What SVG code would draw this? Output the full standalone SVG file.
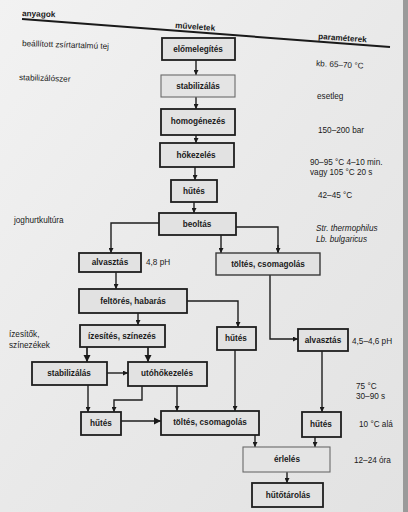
<svg xmlns="http://www.w3.org/2000/svg" width="408" height="512" viewBox="0 0 408 512">
<defs>
<linearGradient id="bg" x1="0" y1="0" x2="1" y2="1">
<stop offset="0" stop-color="#f2f2f2"/>
<stop offset="0.5" stop-color="#e9e9e9"/>
<stop offset="1" stop-color="#e2e2e2"/>
</linearGradient>
<marker id="ah" viewBox="0 0 10 10" refX="10" refY="5" markerWidth="5" markerHeight="5" orient="auto" markerUnits="userSpaceOnUse">
<path d="M0,0 L10,5 L0,10 Z" fill="#1a1a1a"/>
</marker>
<marker id="ahb" viewBox="0 0 10 10" refX="10" refY="5" markerWidth="7" markerHeight="8" orient="auto" markerUnits="userSpaceOnUse">
<path d="M0,0 L10,5 L0,10 Z" fill="#1a1a1a"/>
</marker>
</defs>
<style>
.box{fill:#e2e2e2;stroke:#1e1e1e;stroke-width:1.8}
.mid{fill:#e2e2e2;stroke:#3a3a3a;stroke-width:1.4}
.lite{fill:#e4e4e4;stroke:#6a6a6a;stroke-width:1.1}
.bl{font-family:"Liberation Sans",Arial,sans-serif;font-weight:bold;font-size:8.2px;fill:#1a1a1a;text-anchor:middle}
.t{font-family:"Liberation Sans",Arial,sans-serif;font-size:8.2px;fill:#1a1a1a}
.h{font-family:"Liberation Sans",Arial,sans-serif;font-weight:bold;font-size:8.2px;fill:#1a1a1a}
.c{fill:none;stroke:#1e1e1e;stroke-width:1.4}
.ca{fill:none;stroke:#1e1e1e;stroke-width:1.4;marker-end:url(#ah)}
.cb{fill:none;stroke:#1e1e1e;stroke-width:1.7;marker-end:url(#ahb)}
</style>
<rect x="0" y="0" width="408" height="512" fill="url(#bg)"/>
<rect x="403" y="0" width="5" height="512" fill="#9a9a9a"/>

<g id="header">
<line x1="22" y1="19" x2="390" y2="47" stroke="#1a1a1a" stroke-width="2"/>
<text class="h" x="22" y="16" transform="rotate(2 22 16)">anyagok</text>
<text class="h" x="175" y="28" transform="rotate(4 175 28)">műveletek</text>
<text class="h" x="318" y="39" transform="rotate(4 318 39)">paraméterek</text>
</g>

<g id="inputs">
<text class="t" x="22" y="46" transform="rotate(2 22 46)">beállított zsírtartalmú tej</text>
<text class="t" x="19" y="80" transform="rotate(2 19 80)">stabilizálószer</text>
<text class="t" x="14" y="223">joghurtkultúra</text>
<text class="t" x="9" y="337">ízesítők,</text>
<text class="t" x="9" y="348">színezékek</text>
</g>

<g id="params">
<text class="t" x="316" y="66" transform="rotate(3 316 66)">kb. 65–70 °C</text>
<text class="t" x="317" y="99">esetleg</text>
<text class="t" x="318" y="133">150–200 bar</text>
<text class="t" x="310" y="165">90–95 °C 4–10 min.</text>
<text class="t" x="310" y="175">vagy 105 °C 20 s</text>
<text class="t" x="318" y="198">42–45 °C</text>
<text class="t" x="316" y="231" font-style="italic">Str. thermophilus</text>
<text class="t" x="316" y="242" font-style="italic">Lb. bulgaricus</text>
<text class="t" x="146" y="265">4,8 pH</text>
<text class="t" x="352" y="344">4,5–4,6 pH</text>
<text class="t" x="356" y="389">75 °C</text>
<text class="t" x="356" y="399">30–90 s</text>
<text class="t" x="359" y="427">10 °C alá</text>
<text class="t" x="354" y="463">12–24 óra</text>
</g>

<g id="connectors">
<line class="ca" x1="196" y1="60" x2="196" y2="75"/>
<line class="ca" x1="196" y1="97" x2="196" y2="109"/>
<line class="ca" x1="196" y1="135" x2="196" y2="143"/>
<line class="ca" x1="195" y1="167" x2="195" y2="180"/>
<line class="ca" x1="194" y1="202" x2="194" y2="213"/>
<polyline class="ca" points="159,223 111,223 111,253"/>
<polyline class="c" points="236,227 278,227 278,253"/>
<line class="ca" x1="221" y1="235" x2="221" y2="253"/>
<line class="ca" x1="278" y1="245" x2="278" y2="253"/>
<line class="ca" x1="116" y1="272" x2="116" y2="289"/>
<polyline class="ca" points="187,301 238,301 238,327"/>
<line class="ca" x1="138" y1="313" x2="138" y2="325"/>
<polyline class="ca" points="270,275 270,339 298,339"/>
<line class="cb" x1="87" y1="347" x2="87" y2="362"/>
<line class="cb" x1="148" y1="347" x2="148" y2="362"/>
<line class="ca" x1="107" y1="373" x2="128" y2="373"/>
<line class="ca" x1="88" y1="385" x2="88" y2="412"/>
<polyline class="ca" points="142,386 142,400 114,400 114,412"/>
<line class="ca" x1="177" y1="386" x2="177" y2="411"/>
<line class="ca" x1="235" y1="350" x2="235" y2="411"/>
<line class="ca" x1="322" y1="351" x2="322" y2="412"/>
<line class="cb" x1="121" y1="421" x2="161" y2="421"/>
<line class="ca" x1="255" y1="435" x2="255" y2="447"/>
<line class="ca" x1="315" y1="437" x2="315" y2="447"/>
<line class="ca" x1="287" y1="472" x2="287" y2="483"/>
</g>

<g id="elomelegites"><rect class="box" x="162" y="38" width="73" height="22"/><text class="bl" x="198" y="52">előmelegítés</text></g>
<g id="stabilizalas1"><rect class="lite" x="161" y="75" width="74" height="22"/><text class="bl" x="198" y="89">stabilizálás</text></g>
<g id="homogenezes"><rect class="box" x="161" y="109" width="74" height="26"/><text class="bl" x="198" y="124">homogénezés</text></g>
<g id="hokezeles"><rect class="box" x="160" y="143" width="74" height="24"/><text class="bl" x="196" y="158">hőkezelés</text></g>
<g id="hutes1"><rect class="box" x="171" y="180" width="46" height="22"/><text class="bl" x="194" y="194">hűtés</text></g>
<g id="beoltas"><rect class="box" x="159" y="213" width="77" height="22"/><text class="bl" x="197" y="227">beoltás</text></g>
<g id="alvasztas1"><rect class="box" x="79" y="253" width="62" height="19"/><text class="bl" x="110" y="265">alvasztás</text></g>
<g id="toltes1"><rect class="mid" x="216" y="253" width="104" height="22"/><text class="bl" x="268" y="267">töltés, csomagolás</text></g>
<g id="feltores"><rect class="box" x="79" y="289" width="108" height="24"/><text class="bl" x="133" y="304">feltörés, habarás</text></g>
<g id="izesites"><rect class="box" x="80" y="325" width="85" height="22"/><text class="bl" x="122" y="339">ízesítés, színezés</text></g>
<g id="hutes2"><rect class="box" x="217" y="327" width="39" height="23"/><text class="bl" x="236" y="341">hűtés</text></g>
<g id="alvasztas2"><rect class="box" x="298" y="329" width="50" height="22"/><text class="bl" x="323" y="343">alvasztás</text></g>
<g id="stabilizalas2"><rect class="box" x="32" y="362" width="75" height="23"/><text class="bl" x="69" y="376">stabilizálás</text></g>
<g id="utohokezeles"><rect class="box" x="128" y="362" width="79" height="24"/><text class="bl" x="167" y="376">utóhőkezelés</text></g>
<g id="hutes3"><rect class="box" x="81" y="412" width="40" height="23"/><text class="bl" x="101" y="426">hűtés</text></g>
<g id="toltes2"><rect class="box" x="161" y="411" width="98" height="24"/><text class="bl" x="210" y="425">töltés, csomagolás</text></g>
<g id="hutes4"><rect class="box" x="302" y="412" width="39" height="25"/><text class="bl" x="321" y="427">hűtés</text></g>
<g id="erleles"><rect class="lite" x="243" y="447" width="87" height="25"/><text class="bl" x="287" y="462">érlelés</text></g>
<g id="hutotarolas"><rect class="box" x="252" y="483" width="71" height="24"/><text class="bl" x="288" y="498">hűtőtárolás</text></g>
</svg>
